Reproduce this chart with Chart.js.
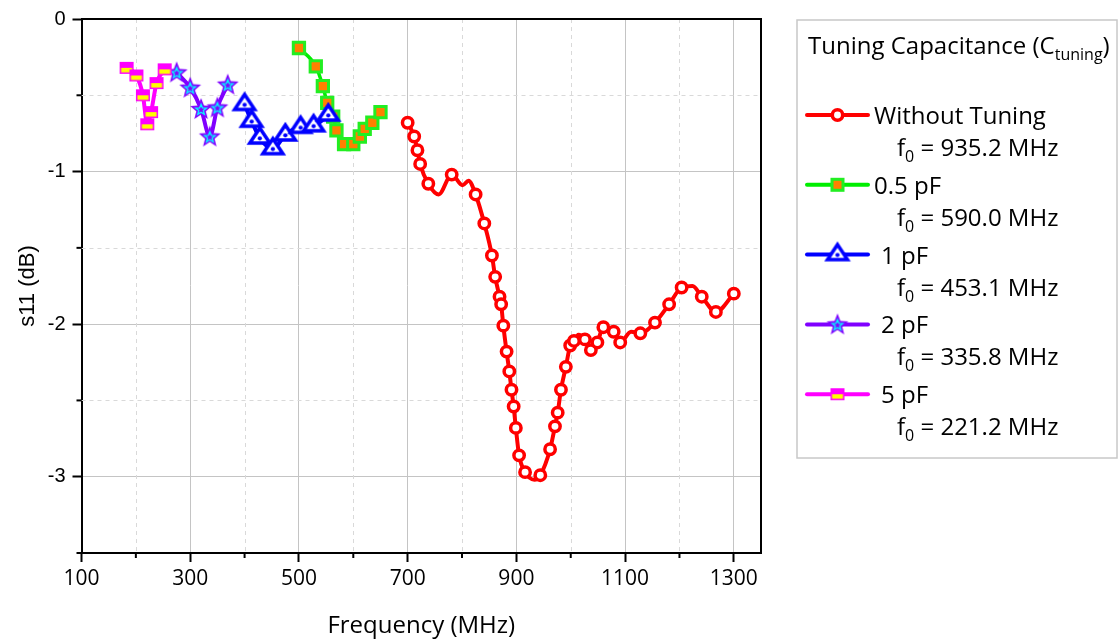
<!DOCTYPE html>
<html><head><meta charset="utf-8">
<script src="https://cdn.jsdelivr.net/npm/chart.js@4.4.1/dist/chart.umd.min.js"></script>
<style>html,body{margin:0;padding:0;background:#fff;}#wrap{width:1119px;height:644px;position:relative;}</style>
</head><body><div id="wrap"><canvas id="c" width="1119" height="644"></canvas></div>
<script>
// ---------------- data ----------------
const xTickLabels = [100, 300, 500, 700, 900, 1100, 1300];
const yTickLabels = [0, -1, -2, -3];
const seriesNames = ['Without Tuning', '0.5 pF', '1 pF', '2 pF', '5 pF'];
const resonanceFreqs = ['935.2 MHz', '590.0 MHz', '453.1 MHz', '335.8 MHz', '221.2 MHz'];
const legendTitleMain = 'Tuning Capacitance (C';
const legendTitleSub = 'tuning';
const xAxisTitle = 'Frequency (MHz)';
const yAxisTitle = 's11 (dB)';

const freqNoTuning = [700,712,718,723,738,757,781,801,812,825,841,855,861,869,872,876,882,887,891,895,899,905,916,933,944,962,971,976,982,991,999,1006,1014,1026,1037,1049,1060,1079,1091,1111,1128,1155,1181,1204,1224,1241,1267,1300];
const s11NoTuning  = [-0.68,-0.77,-0.86,-0.95,-1.08,-1.15,-1.02,-1.09,-1.06,-1.15,-1.34,-1.55,-1.69,-1.82,-1.87,-2.01,-2.18,-2.31,-2.43,-2.54,-2.68,-2.86,-2.97,-3.02,-2.99,-2.82,-2.67,-2.58,-2.43,-2.28,-2.14,-2.11,-2.07,-2.10,-2.17,-2.12,-2.02,-2.05,-2.12,-2.05,-2.06,-1.99,-1.87,-1.76,-1.75,-1.82,-1.92,-1.80];
// samples drawn on the line without a marker
const freqNoTuningUnmarked = [757, 801, 812, 933, 1014, 1111, 1224];

const freq05pF = [500, 531, 544, 552, 563, 569, 583, 600, 612, 621, 635, 650];
const s11_05pF = [-0.19, -0.31, -0.44, -0.55, -0.64, -0.73, -0.82, -0.82, -0.77, -0.72, -0.68, -0.61];

const freq1pF = [400, 413, 428, 452, 475, 503, 527, 554];
const s11_1pF = [-0.56, -0.67, -0.78, -0.85, -0.76, -0.71, -0.70, -0.63];

const freq2pF = [275, 300, 320, 336, 350, 369];
const s11_2pF = [-0.35, -0.45, -0.59, -0.77, -0.58, -0.43];

const freq5pF = [183, 201, 213, 221, 228, 238, 253];
const s11_5pF = [-0.32, -0.37, -0.50, -0.69, -0.61, -0.42, -0.33];

// ---------------- styles ----------------
const FONT_UI = '"Open Sans", "Noto Sans", sans-serif';
const FONT_ARIAL = '"Liberation Sans", Arial, sans-serif';

function makeTriangle() {
  const c = document.createElement('canvas'); c.width = 28; c.height = 28;
  const g = c.getContext('2d');
  g.beginPath(); g.moveTo(14, 4); g.lineTo(24, 19); g.lineTo(4, 19); g.closePath();
  g.fillStyle = '#fff'; g.fill();
  g.lineWidth = 3.5; g.strokeStyle = '#0000ff'; g.lineJoin = 'miter'; g.stroke();
  g.beginPath(); g.arc(14, 14.3, 2.1, 0, Math.PI * 2); g.fillStyle = '#0000ff'; g.fill();
  return c;
}
function starPath(g, cx, cy, R, r) {
  g.beginPath();
  for (let i = 0; i < 10; i++) {
    const a = -Math.PI / 2 + i * Math.PI / 5;
    const rad = i % 2 ? r : R;
    const px = cx + rad * Math.cos(a), py = cy + rad * Math.sin(a);
    if (i) g.lineTo(px, py); else g.moveTo(px, py);
  }
  g.closePath();
}
function makeStar() {
  const c = document.createElement('canvas'); c.width = 28; c.height = 28;
  const g = c.getContext('2d');
  starPath(g, 14, 14.6, 11.5, 5.0); g.fillStyle = '#8000ff'; g.fill();
  starPath(g, 14, 14.8, 5.6, 2.4); g.lineWidth = 1.3; g.strokeStyle = '#00ffff'; g.stroke();
  return c;
}
function makeHalfSquare() {
  const c = document.createElement('canvas'); c.width = 18; c.height = 18;
  const g = c.getContext('2d');
  g.fillStyle = '#ff00ff'; g.fillRect(2, 3, 14, 12);
  g.fillStyle = '#ffff00'; g.fillRect(3.5, 9, 11, 4.5);
  return c;
}
const triImg = makeTriangle(), starImg = makeStar(), halfSqImg = makeHalfSquare();

function pts(xs, ys) { return xs.map((x, i) => ({ x: x, y: ys[i] })); }

const datasets = [
  { label: seriesNames[0], data: pts(freqNoTuning, s11NoTuning), borderColor: '#ff0000', borderWidth: 4,
    pointStyle: 'circle', pointBackgroundColor: '#ffffff', pointBorderColor: '#ff0000', pointBorderWidth: 3.5,
    pointRadius: ctx => (ctx.raw && freqNoTuningUnmarked.includes(ctx.raw.x)) ? 0 : 5.2, order: 5 },
  { label: seriesNames[1], data: pts(freq05pF, s11_05pF), borderColor: '#00ee00', borderWidth: 3.5,
    pointStyle: 'rect', pointBackgroundColor: '#ff7f00', pointBorderColor: '#22ee22', pointBorderWidth: 3,
    pointRadius: 8, order: 4 },
  { label: seriesNames[2], data: pts(freq1pF, s11_1pF), borderColor: '#0000ff', borderWidth: 4,
    pointStyle: triImg, pointRadius: 10, order: 3 },
  { label: seriesNames[3], data: pts(freq2pF, s11_2pF), borderColor: '#8000ff', borderWidth: 4,
    pointStyle: starImg, pointRadius: 10, order: 2 },
  { label: seriesNames[4], data: pts(freq5pF, s11_5pF), borderColor: '#ff00ff', borderWidth: 4,
    pointStyle: halfSqImg, pointRadius: 8, order: 1 }
];
datasets.forEach(d => { d.fill = false; d.cubicInterpolationMode = 'monotone'; d.borderJoinStyle = 'round'; d.borderCapStyle = 'round'; });

const isMajorX = v => xTickLabels.includes(v);
const isMajorY = v => yTickLabels.some(t => Math.abs(t - v) < 1e-9);

// minor grid, minor ticks and frame
const framePlugin = {
  id: 'frame',
  beforeDatasetsDraw(chart) {
    const { ctx, chartArea: a, scales: { x, y } } = chart;
    ctx.save();
    ctx.strokeStyle = '#d9d9d9'; ctx.lineWidth = 1; ctx.setLineDash([4, 4]);
    x.ticks.forEach(t => {
      if (isMajorX(t.value)) return;
      const px = Math.round(x.getPixelForValue(t.value)) + 0.5;
      ctx.beginPath(); ctx.moveTo(px, a.top); ctx.lineTo(px, a.bottom); ctx.stroke();
    });
    y.ticks.forEach(t => {
      if (isMajorY(t.value) || t.value === y.min || t.value === y.max) return;
      const py = Math.round(y.getPixelForValue(t.value)) + 0.5;
      ctx.beginPath(); ctx.moveTo(a.left, py); ctx.lineTo(a.right, py); ctx.stroke();
    });
    ctx.restore();
  },
  afterDraw(chart) {
    const { ctx, chartArea: a, scales: { x, y } } = chart;
    ctx.save();
    ctx.strokeStyle = '#000'; ctx.lineWidth = 2;
    ctx.beginPath(); ctx.moveTo(a.left, a.top); ctx.lineTo(a.right, a.top); ctx.lineTo(a.right, a.bottom); ctx.stroke();
    // minor ticks
    x.ticks.forEach(t => {
      if (isMajorX(t.value)) return;
      const px = x.getPixelForValue(t.value);
      ctx.beginPath(); ctx.moveTo(px, a.bottom); ctx.lineTo(px, a.bottom + 5); ctx.stroke();
    });
    y.ticks.forEach(t => {
      if (isMajorY(t.value)) return;
      const py = y.getPixelForValue(t.value);
      ctx.beginPath(); ctx.moveTo(a.left, py); ctx.lineTo(a.left - 5, py); ctx.stroke();
    });
    ctx.restore();
    drawLegend(ctx);
  }
};

function drawRich(ctx, x, y, parts, size, subSize) {
  let cx = x;
  parts.forEach(p => {
    if (p.sub) {
      ctx.font = subSize + 'px ' + FONT_UI;
      ctx.fillText(p.t, cx, y + 6);
    } else {
      ctx.font = size + 'px ' + FONT_UI;
      ctx.fillText(p.t, cx, y);
    }
    cx += ctx.measureText(p.t).width;
  });
}

function drawLegendMarker(ctx, i, cx, cy) {
  const d = datasets[i];
  if (i === 0) {
    ctx.beginPath(); ctx.arc(cx, cy, 5.2, 0, Math.PI * 2);
    ctx.fillStyle = '#fff'; ctx.fill(); ctx.lineWidth = 3.5; ctx.strokeStyle = '#ff0000'; ctx.stroke();
  } else if (i === 1) {
    ctx.fillStyle = '#ff7f00'; ctx.fillRect(cx - 5.5, cy - 5.5, 11, 11);
    ctx.lineWidth = 3; ctx.strokeStyle = '#22ee22'; ctx.strokeRect(cx - 5.5, cy - 5.5, 11, 11);
  } else {
    const img = d.pointStyle;
    ctx.drawImage(img, cx - img.width / 2, cy - img.height / 2);
  }
}

function drawLegend(ctx) {
  ctx.save();
  ctx.strokeStyle = '#c8c8c8'; ctx.lineWidth = 1.5;
  ctx.strokeRect(797, 20, 320, 438);
  ctx.fillStyle = '#000'; ctx.textBaseline = 'alphabetic'; ctx.textAlign = 'left';
  drawRich(ctx, 808, 54, [{ t: legendTitleMain }, { t: legendTitleSub, sub: true }, { t: ')' }], 24, 16);
  const labelX = [874, 874, 881, 881, 881];
  for (let i = 0; i < seriesNames.length; i++) {
    const ly = 115 + 69.8 * i;
    const d = datasets[i];
    ctx.strokeStyle = d.borderColor; ctx.lineWidth = 4; ctx.lineCap = 'round';
    ctx.beginPath(); ctx.moveTo(807, ly); ctx.lineTo(868, ly); ctx.stroke();
    drawLegendMarker(ctx, i, 837.5, ly);
    ctx.fillStyle = '#000';
    drawRich(ctx, labelX[i], ly + 9, [{ t: seriesNames[i] }], 24, 16);
    drawRich(ctx, 897, ly + 41, [{ t: 'f' }, { t: '0', sub: true }, { t: ' = ' + resonanceFreqs[i] }], 24, 16);
  }
  ctx.restore();
}

new Chart(document.getElementById('c'), {
  type: 'line',
  data: { datasets: datasets },
  options: {
    responsive: false, devicePixelRatio: 1, animation: false, events: [],
    layout: { padding: { left: 0, top: 17, right: 358, bottom: 0 } },
    plugins: { legend: { display: false }, tooltip: { enabled: false } },
    scales: {
      x: {
        type: 'linear', min: 100, max: 1350,
        afterFit: s => { s.height = 91; },
        ticks: { stepSize: 100, includeBounds: false, autoSkip: false, maxRotation: 0, padding: 4,
          color: '#000', font: { family: FONT_UI, size: 21 },
          callback: v => isMajorX(v) ? String(v) : '' },
        grid: { color: c => (c.tick && isMajorX(c.tick.value) && c.tick.value !== 100) ? '#c4c4c4' : 'rgba(0,0,0,0)',
          lineWidth: 1, tickLength: 9, tickWidth: 2,
          tickColor: c => (c.tick && isMajorX(c.tick.value)) ? '#000' : 'rgba(0,0,0,0)' },
        border: { color: '#000', width: 2 },
        title: { display: true, text: xAxisTitle, color: '#000', font: { family: FONT_UI, size: 24 }, padding: { top: 0, bottom: 3 } }
      },
      y: {
        type: 'linear', min: -3.5, max: 0,
        afterFit: s => { s.width = 81.5; },
        ticks: { stepSize: 0.5, autoSkip: false, padding: 7, color: '#000', font: { family: FONT_ARIAL, size: 20 },
          callback: v => isMajorY(v) ? String(Math.round(v)) : '' },
        grid: { color: c => (c.tick && isMajorY(c.tick.value) && c.tick.value !== 0) ? '#c4c4c4' : 'rgba(0,0,0,0)',
          lineWidth: 1, tickLength: 9, tickWidth: 2,
          tickColor: c => (c.tick && isMajorY(c.tick.value)) ? '#000' : 'rgba(0,0,0,0)' },
        border: { color: '#000', width: 2 },
        title: { display: true, text: yAxisTitle, color: '#000', font: { family: FONT_ARIAL, size: 22 }, padding: { top: 15, bottom: 0 } }
      }
    }
  },
  plugins: [framePlugin]
});
</script>
</body></html>
